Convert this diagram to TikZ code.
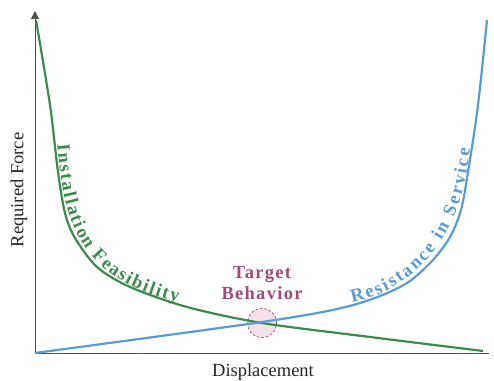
\documentclass[tikz,border=0pt]{standalone}
\usepackage{fontspec}
\setmainfont{Liberation Serif}
\newfontfamily\tbfamily[LetterSpace=7]{Liberation Serif}
\newfontfamily\curvebf[Scale=1.85]{Liberation Serif Bold}
\usetikzlibrary{arrows.meta,decorations.text}
\definecolor{cgreen}{HTML}{3C8A4C}
\definecolor{cblue}{HTML}{5B9BD5}
\definecolor{cmag}{HTML}{A3497A}
\definecolor{cpink}{HTML}{F3E3E8}
\definecolor{caxis}{HTML}{505050}
\begin{document}
\begin{tikzpicture}[x=1pt,y=1pt,
  axisline/.style={draw=caxis, line width=1pt},
  curve/.style={line width=2.2pt, line join=round},
  labeltext/.style={font=\fontsize{18.5}{22}\selectfont, text=black!85},
  tbtext/.style={font=\tbfamily\fontsize{18.5}{22}\selectfont\bfseries, text=cmag, anchor=base, inner sep=0pt},
  targetcircle/.style={circle, minimum size=29pt, inner sep=0pt, fill=cpink, draw=cmag, dash pattern=on 2.5pt off 2pt, line width=0.7pt},
  alongtext/.style={decorate, decoration={text along path, text align=fit to path, raise=2.3pt}}
]
\useasboundingbox (0,0) rectangle (494,380);
% target circle
\node[targetcircle] (tc) at (262,57) {};
% axes
\coordinate (O) at (35,27);
\coordinate (ytop) at (35,369);
\coordinate (xend) at (489,27);
\draw[axisline, -{Triangle[length=8pt,width=8pt]}] (O) -- (ytop);
\draw[axisline] (O) -- (xend);
% curves
\draw[curve, cgreen] plot[smooth] coordinates {(36,360) (50,275) (58,208) (65,167) (75,142) (97,113) (130,93) (187,73) (262,57) (370,43) (483,29)};
\draw[curve, cblue] plot[smooth] coordinates {(35,27) (150,42.5) (262,58) (320,67.5) (355,75.5) (385,86) (410,99) (433,120) (450,143) (461,170) (468,208) (478,275) (487,360)};
% curved labels
\coordinate (g0) at (55,235);
\coordinate (g1) at (177,75.5);
\coordinate (b0) at (353,75);
\coordinate (b1) at (472,231);
\path[alongtext, decoration={text={|\curvebf|Installation Feasibility}, text color=cgreen}] (g0) .. controls (62,150) and (80,100) .. (g1);
\path[alongtext, decoration={text={|\curvebf|Resistance in Service}, text color=cblue}] (b0) .. controls (422,90) and (466,150) .. (b1);
% labels
\node[labeltext, rotate=90] (yl) at (19,190) {Required Force};
\node[labeltext, anchor=base] (xl) at (263,4) {Displacement};
\node[tbtext] (tb1) at (262,102) {Target};
\node[tbtext] (tb2) at (262,81) {Behavior};
\end{tikzpicture}
\end{document}
